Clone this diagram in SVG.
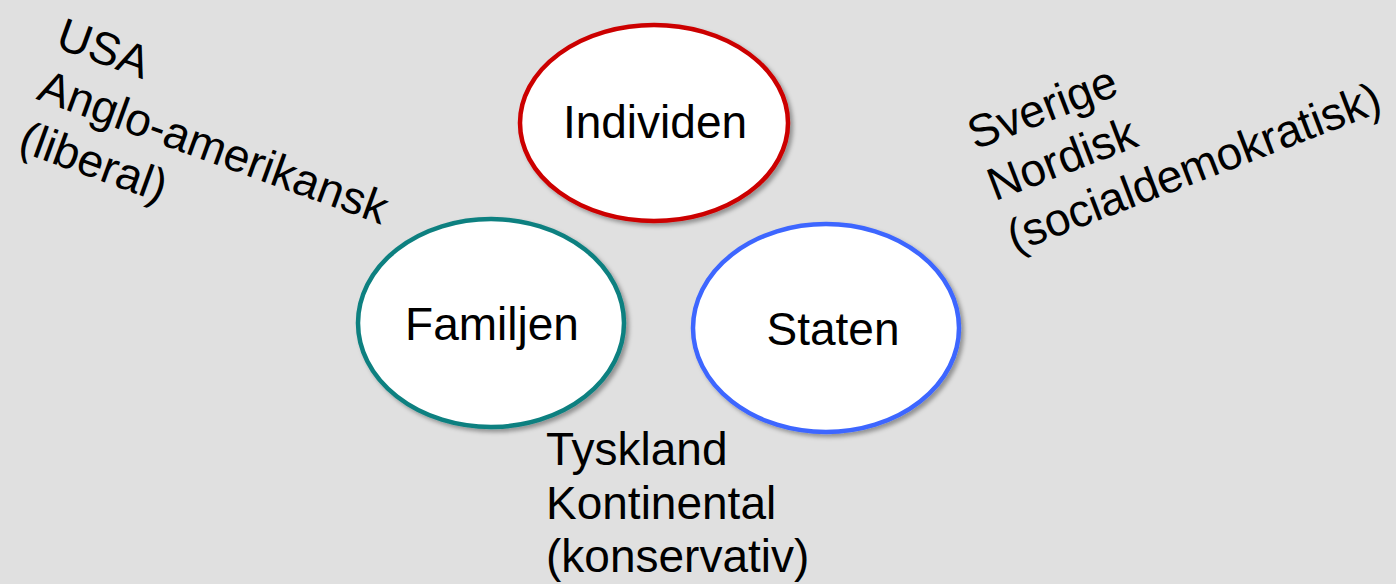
<svg xmlns="http://www.w3.org/2000/svg" width="1396" height="584" viewBox="0 0 1396 584">
<style>
.t{font-family:"Liberation Sans",Arial,sans-serif;font-size:46px;fill:#000}
.n{fill:#fff;stroke-width:4.5;filter:url(#sh)}
</style>
<defs>
<filter id="sh" x="-10%" y="-10%" width="125%" height="125%">
<feDropShadow dx="3" dy="3" stdDeviation="2" flood-color="#000" flood-opacity="0.35"/>
</filter>
</defs>
<rect width="1396" height="584" fill="#e0e0e0"/>
<g id="connectors"></g>
<g id="individen">
<ellipse class="n" cx="654" cy="123" rx="134" ry="98" stroke="#cc0000"/>
<text class="t" x="655" y="138" text-anchor="middle">Individen</text>
</g>
<g id="familjen">
<ellipse class="n" cx="491" cy="323" rx="133" ry="104" stroke="#0e8080"/>
<text class="t" x="492" y="340" text-anchor="middle">Familjen</text>
</g>
<g id="staten">
<ellipse class="n" cx="826" cy="328" rx="133" ry="104" stroke="#3d66ff"/>
<text class="t" x="833" y="345" text-anchor="middle">Staten</text>
</g>
<g id="label-usa" transform="translate(54,47) rotate(20)">
<text class="t" x="0" y="0">USA</text>
<text class="t" x="0" y="55">Anglo-amerikansk</text>
<text class="t" x="0" y="110">(liberal)</text>
</g>
<g id="label-sverige" transform="translate(975,150) rotate(-21)">
<text class="t" x="0" y="0">Sverige</text>
<text class="t" x="0" y="55">Nordisk</text>
<text class="t" x="0" y="110">(socialdemokratisk)</text>
</g>
<g id="label-tyskland">
<text class="t" x="546" y="465">Tyskland</text>
<text class="t" x="546" y="519">Kontinental</text>
<text class="t" x="546" y="572">(konservativ)</text>
</g>
</svg>
